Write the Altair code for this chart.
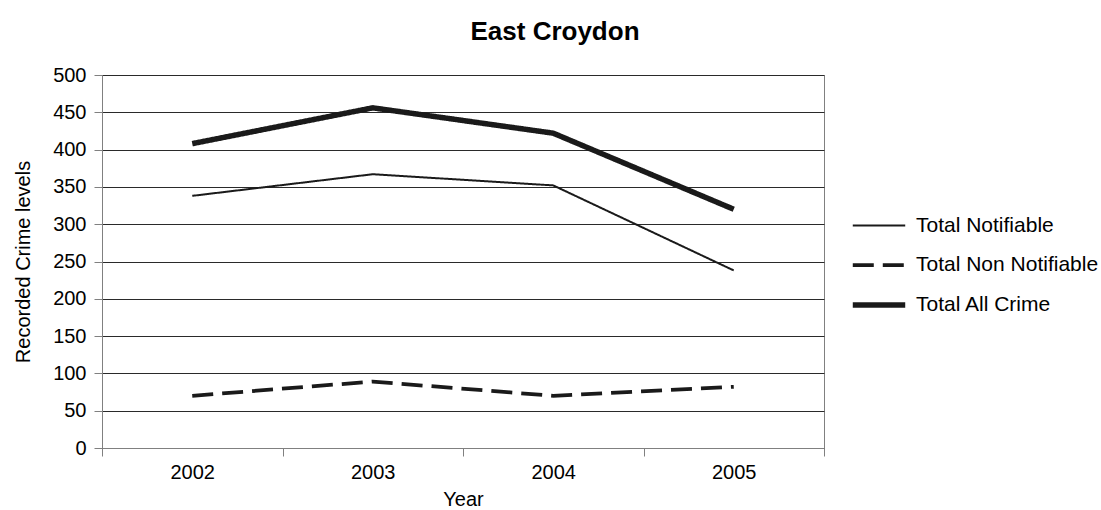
import altair as alt
import pandas as pd

years = ["2002", "2003", "2004", "2005"]
series_names = ["Total Notifiable", "Total Non Notifiable", "Total All Crime"]
notifiable = [338, 367, 352, 238]
non_notifiable = [70, 89, 70, 82]
all_crime = [408, 456, 422, 320]

rows = []
for name, vals in zip(series_names, [notifiable, non_notifiable, all_crime]):
    for y, v in zip(years, vals):
        rows.append({"Year": y, "series": name, "value": v})
df = pd.DataFrame(rows)

FONT = "Liberation Sans"

chart = (
    alt.Chart(df)
    .mark_line(color="#1a1a1a", strokeCap="butt", strokeJoin="miter")
    .encode(
        x=alt.X(
            "Year:O",
            sort=years,
            scale=alt.Scale(type="band", paddingInner=0, paddingOuter=0),
            axis=alt.Axis(
                title="Year",
                labelAngle=0,
                tickBand="extent",
                grid=False,
                tickSize=8,
                labelPadding=6,
                titlePadding=7,
            ),
        ),
        y=alt.Y(
            "value:Q",
            scale=alt.Scale(domain=[0, 500], nice=False),
            axis=alt.Axis(
                title="Recorded Crime levels",
                values=list(range(0, 501, 50)),
                tickSize=8,
                labelPadding=8,
                titlePadding=19,
            ),
        ),
        strokeDash=alt.StrokeDash(
            "series:N",
            sort=series_names,
            scale=alt.Scale(domain=series_names, range=[[1, 0], [21, 9], [1, 0]]),
            legend=alt.Legend(title=None),
        ),
        strokeWidth=alt.StrokeWidth(
            "series:N",
            sort=series_names,
            scale=alt.Scale(domain=series_names, range=[2, 5.5, 6]),
            legend=alt.Legend(title=None),
        ),
        detail="series:N",
    )
    .properties(
        width=722,
        height=373,
        title=alt.TitleParams("East Croydon", fontSize=26, fontWeight="bold", font=FONT, dx=92, offset=20),
        autosize=alt.AutoSizeParams(type="none"),
        padding={"left": 102, "top": 75, "right": 277, "bottom": 62},
    )
    .configure_view(stroke="#808080", strokeWidth=1)
    .configure_axis(
        labelFont=FONT,
        titleFont=FONT,
        labelFontSize=20,
        titleFontSize=20,
        titleFontWeight="normal",
        labelColor="#000000",
        titleColor="#000000",
        domainColor="#808080",
        tickColor="#808080",
        gridColor="#2a2a2a",
        gridWidth=1,
    )
    .configure_legend(
        orient="none",
        legendX=748,
        legendY=123,
        labelFont=FONT,
        labelFontSize=21,
        labelColor="#000000",
        labelLimit=400,
        symbolType="stroke",
        symbolSize=2750,
        symbolStrokeColor="#1a1a1a",
        labelOffset=8,
        rowPadding=0.5,
    )
)

chart.save("out.html", embed_options={"renderer": "svg", "actions": False})
